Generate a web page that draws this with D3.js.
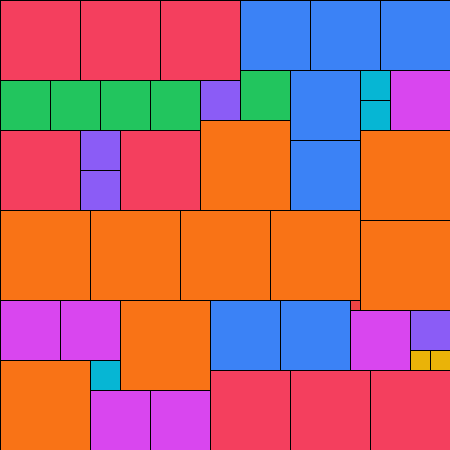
<!DOCTYPE html>
<html>
<head>
<meta charset="utf-8">
<script src="https://cdn.jsdelivr.net/npm/d3@7"></script>
<style>
  html, body { margin: 0; padding: 0; background: #ffffff; }
  svg { display: block; }
</style>
</head>
<body>
<script>
// Partridge packing: n squares of side n (n = 1..9) tiling a 45 x 45 square.
// Grid units (1 unit = 10 px).
const gridSize = 45;
const sideSizes = [1, 2, 3, 4, 5, 6, 7, 8, 9];
const sizeColors = ["#ef4444", "#eab308", "#06b6d4", "#8b5cf6", "#22c55e",
                    "#d946ef", "#3b82f6", "#f43f5e", "#f97316"];

const tileSide = [8, 8, 8, 7, 7, 7,
                  5, 5, 5, 5, 4, 5, 7, 3, 3, 6,
                  9, 7, 9,
                  8, 4, 4, 8,
                  9, 9, 9, 9, 9,
                  6, 6, 9, 7, 7, 1, 6, 4, 2, 2,
                  9, 3, 6, 6, 8, 8, 8];
const tileCol  = [0, 8, 16, 24, 31, 38,
                  0, 5, 10, 15, 20, 24, 29, 36, 36, 39,
                  20, 29, 36,
                  0, 8, 8, 12,
                  0, 9, 18, 27, 36,
                  0, 6, 12, 21, 28, 35, 35, 41, 41, 43,
                  0, 9, 9, 15, 21, 29, 37];
const tileRow  = [0, 0, 0, 0, 0, 0,
                  8, 8, 8, 8, 8, 7, 7, 7, 10, 7,
                  12, 14, 13,
                  13, 13, 17, 13,
                  21, 21, 21, 21, 22,
                  30, 30, 30, 30, 30, 30, 31, 31, 35, 35,
                  36, 36, 39, 39, 37, 37, 37];

const W = 450, H = 450;
const scale = d3.scaleLinear().domain([0, gridSize]).range([0, W]);
const color = d3.scaleOrdinal().domain(sideSizes).range(sizeColors);

const tiles = tileSide.map((s, i) => ({ side: s, col: tileCol[i], row: tileRow[i] }));

const svg = d3.select("body").append("svg")
  .attr("width", W).attr("height", H)
  .attr("viewBox", `0 0 ${W} ${H}`);

svg.append("g")
  .selectAll("rect")
  .data(tiles)
  .join("rect")
  .attr("x", d => scale(d.col) + 0.5)
  .attr("y", d => scale(d.row) + 0.5)
  .attr("width", d => scale(d.side))
  .attr("height", d => scale(d.side))
  .attr("fill", d => color(d.side))
  .attr("stroke", "#000")
  .attr("stroke-width", 1);
</script>
</body>
</html>
